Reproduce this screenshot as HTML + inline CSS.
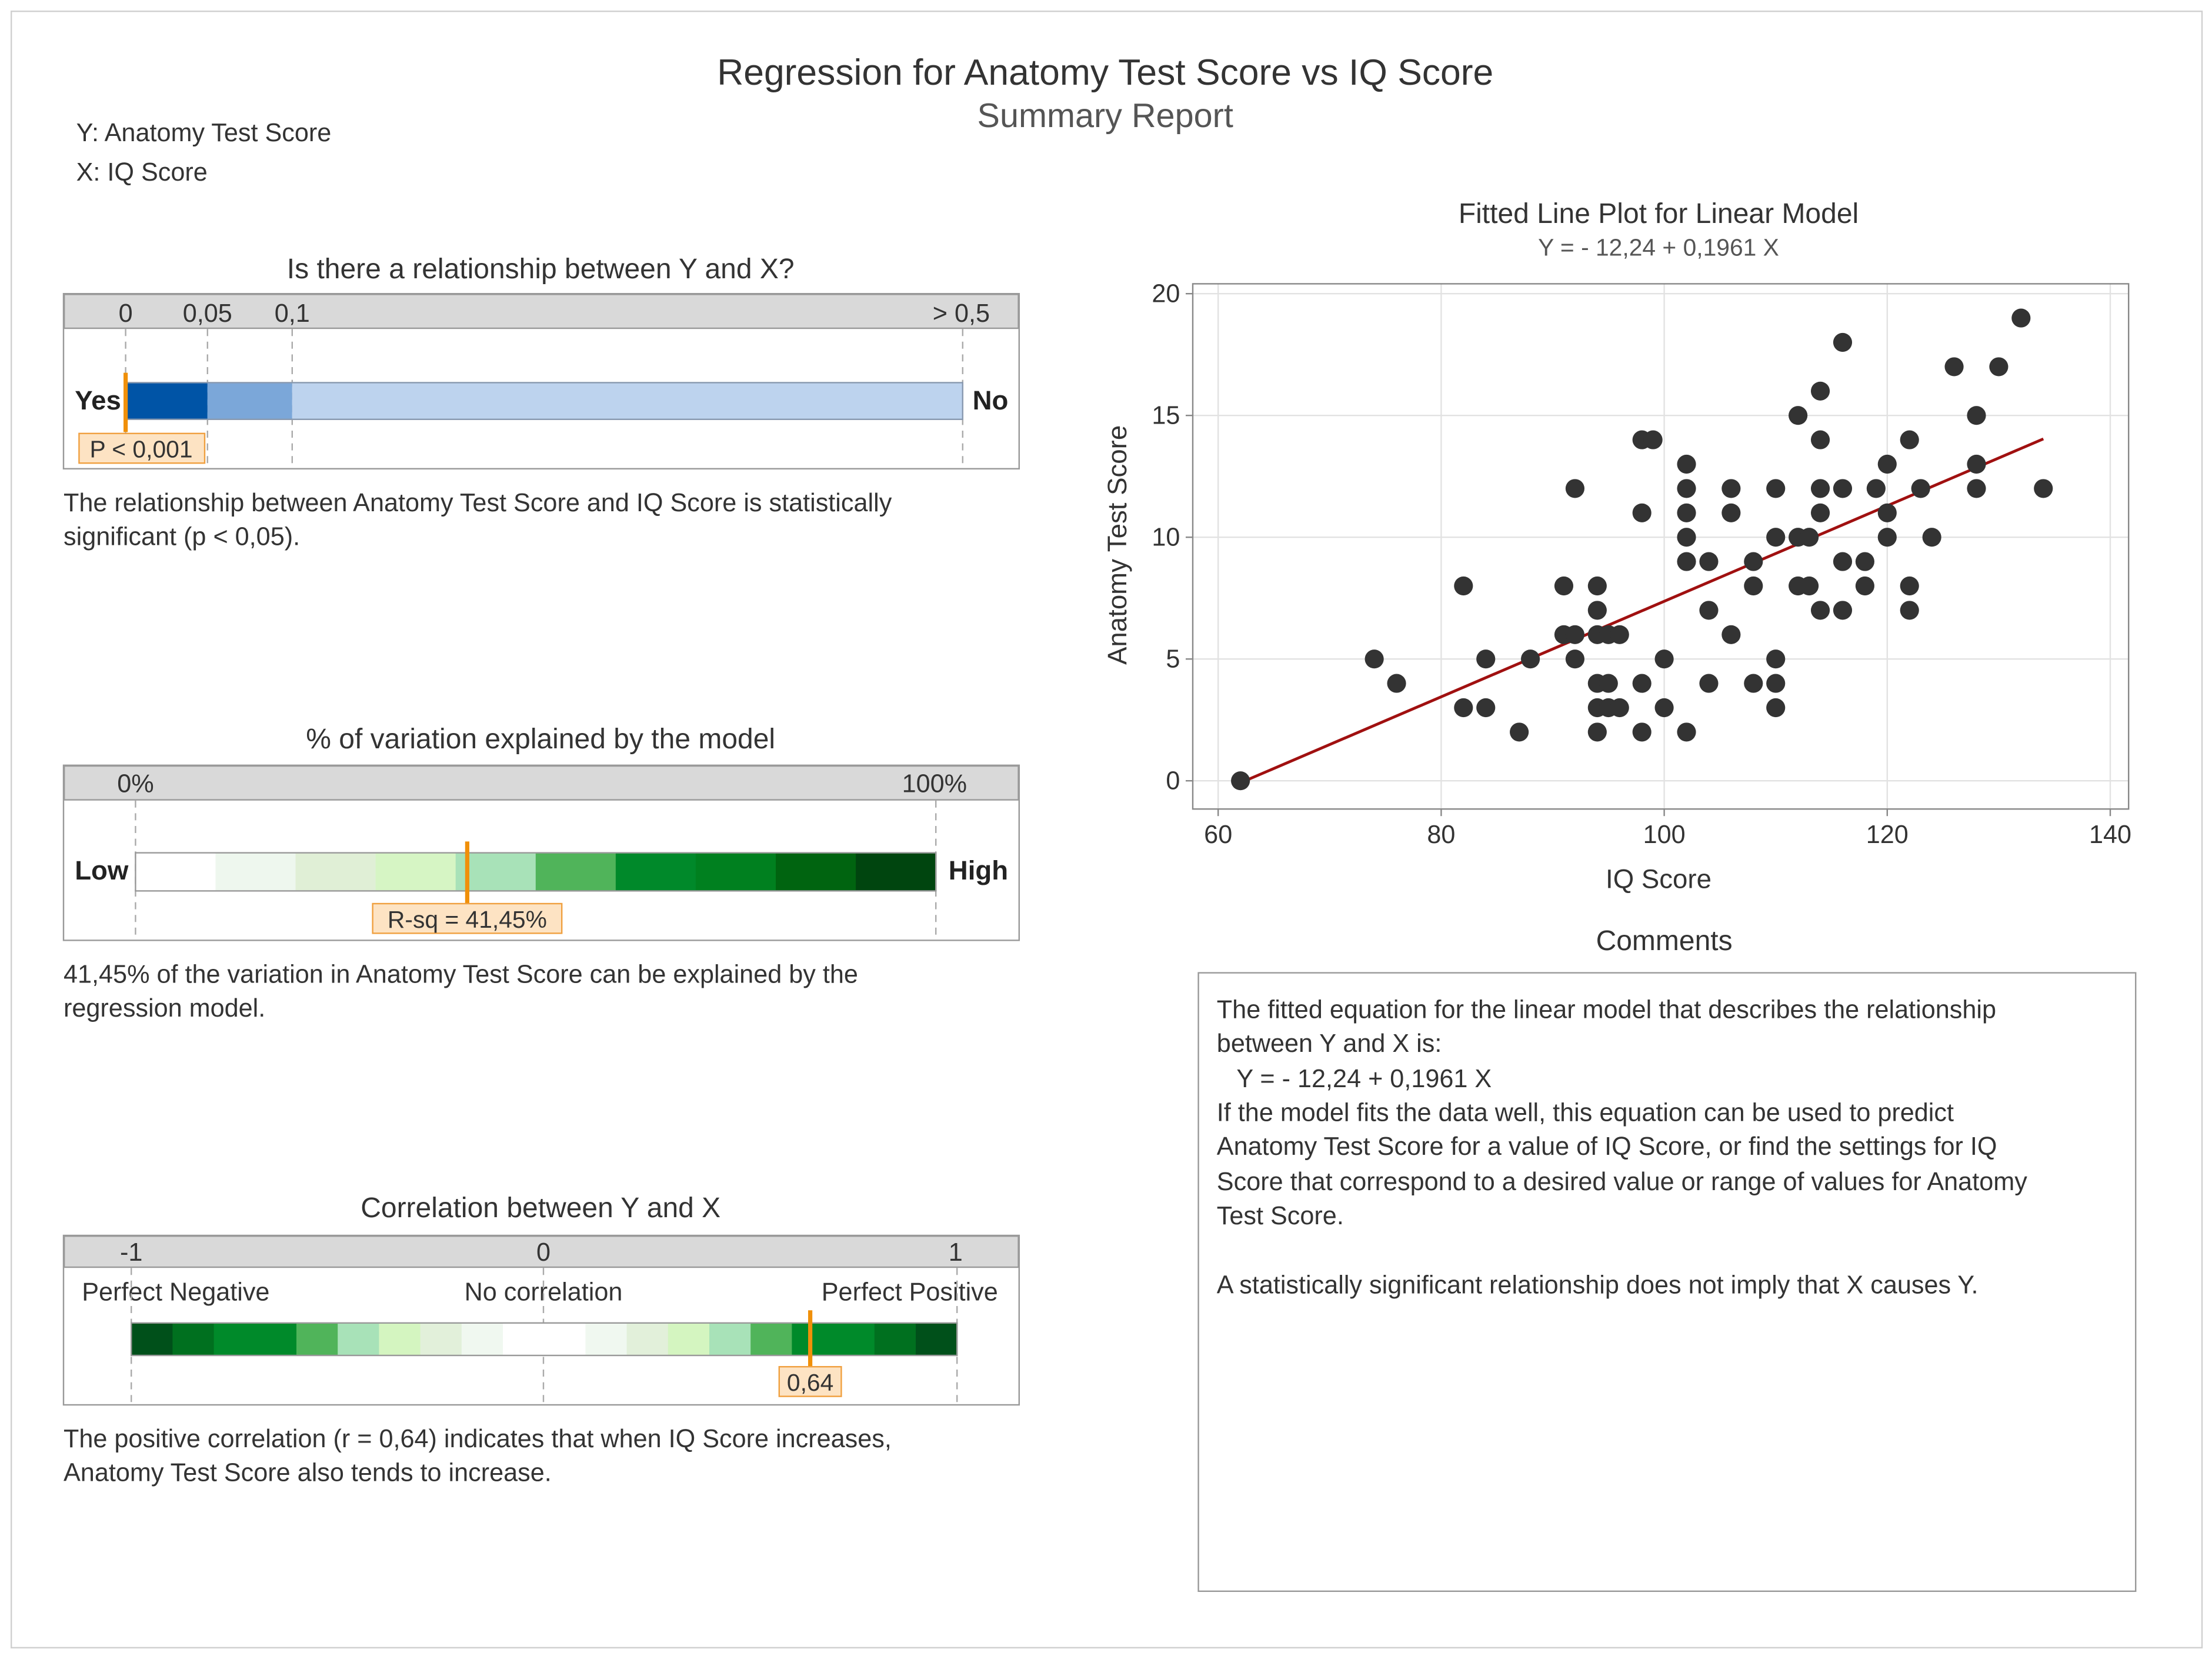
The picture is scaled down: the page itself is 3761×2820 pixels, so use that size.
<!DOCTYPE html>
<html><head><meta charset="utf-8"><style>
html,body{margin:0;padding:0;background:#fff}
svg{display:block}
text{font-family:"Liberation Sans",sans-serif}
</style></head><body>
<svg id="root" width="3761" height="2820" viewBox="0 0 1567.08 1175" preserveAspectRatio="none">
<rect x="8" y="8" width="1552" height="1159" fill="#fff" stroke="#d0d0d0"/>
<text x="783" y="60" text-anchor="middle" font-size="26" fill="#333">Regression for Anatomy Test Score vs IQ Score</text>
<text x="783" y="90" text-anchor="middle" font-size="24" fill="#555">Summary Report</text>
<text x="54" y="100" font-size="18" fill="#333">Y: Anatomy Test Score</text>
<text x="54" y="128" font-size="18" fill="#333">X: IQ Score</text>

<!-- Panel 1 -->
<g>
<text x="383" y="197" text-anchor="middle" font-size="20" fill="#333">Is there a relationship between Y and X?</text>
<rect x="45" y="208" width="677" height="124" fill="#fff" stroke="#999"/>
<rect x="45.5" y="208.5" width="676" height="24" fill="#d9d9d9" stroke="#999"/>
<g font-size="18" fill="#333" text-anchor="middle">
<text x="89" y="228">0</text>
<text x="147" y="228">0,05</text>
<text x="207" y="228">0,1</text>
<text x="681" y="228">&gt; 0,5</text>
</g>
<g stroke="#aaa" stroke-dasharray="5,4">
<line x1="89" y1="233" x2="89" y2="330"/><line x1="147" y1="233" x2="147" y2="330"/><line x1="207" y1="233" x2="207" y2="330"/><line x1="682" y1="233" x2="682" y2="330"/>
</g>
<rect x="89" y="271" width="58" height="26" fill="#0054a6"/>
<rect x="147" y="271" width="60" height="26" fill="#7ba7d9"/>
<rect x="207" y="271" width="475" height="26" fill="#bdd3ee"/>
<rect x="89" y="271" width="593" height="26" fill="none" stroke="#8a9ab0"/>
<text x="53" y="290" font-size="19" font-weight="bold" fill="#222">Yes</text>
<text x="689" y="290" font-size="19" font-weight="bold" fill="#222">No</text>
<line x1="89" y1="264" x2="89" y2="306" stroke="#f0900a" stroke-width="3"/>
<rect x="56" y="307" width="89" height="21" fill="#fde3c3" stroke="#f0a040"/>
<text x="100" y="324" text-anchor="middle" font-size="17" fill="#333">P &lt; 0,001</text>
<text x="45" y="362" font-size="18" fill="#333">The relationship between Anatomy Test Score and IQ Score is statistically</text>
<text x="45" y="386" font-size="18" fill="#333">significant (p &lt; 0,05).</text>
</g>

<!-- Panel 2 -->
<g>
<text x="383" y="530" text-anchor="middle" font-size="20" fill="#333">% of variation explained by the model</text>
<rect x="45" y="542" width="677" height="124" fill="#fff" stroke="#999"/>
<rect x="45.5" y="542.5" width="676" height="24" fill="#d9d9d9" stroke="#999"/>
<text x="96" y="561" text-anchor="middle" font-size="18" fill="#333">0%</text>
<text x="662" y="561" text-anchor="middle" font-size="18" fill="#333">100%</text>
<g stroke="#aaa" stroke-dasharray="5,4"><line x1="96" y1="567" x2="96" y2="664"/><line x1="663" y1="567" x2="663" y2="664"/></g>
<g id="rsqBar"></g>
<rect x="96" y="604" width="567" height="27" fill="none" stroke="#999"/>
<text x="53" y="623" font-size="19" font-weight="bold" fill="#222">Low</text>
<text x="672" y="623" font-size="19" font-weight="bold" fill="#222">High</text>
<line x1="331" y1="596" x2="331" y2="640" stroke="#f0900a" stroke-width="3"/>
<rect x="264" y="640" width="134" height="21" fill="#fde3c3" stroke="#f0a040"/>
<text x="331" y="657" text-anchor="middle" font-size="17" fill="#333">R-sq = 41,45%</text>
<text x="45" y="696" font-size="18" fill="#333">41,45% of the variation in Anatomy Test Score can be explained by the</text>
<text x="45" y="720" font-size="18" fill="#333">regression model.</text>
</g>

<!-- Panel 3 -->
<g>
<text x="383" y="862" text-anchor="middle" font-size="20" fill="#333">Correlation between Y and X</text>
<rect x="45" y="875" width="677" height="120" fill="#fff" stroke="#999"/>
<rect x="45.5" y="875.5" width="676" height="22" fill="#d9d9d9" stroke="#999"/>
<g font-size="18" fill="#333" text-anchor="middle">
<text x="93" y="893">-1</text>
<text x="385" y="893">0</text>
<text x="677" y="893">1</text>
</g>
<text x="58" y="921" font-size="18" fill="#333">Perfect Negative</text>
<text x="385" y="921" font-size="18" fill="#333" text-anchor="middle">No correlation</text>
<text x="707" y="921" font-size="18" fill="#333" text-anchor="end">Perfect Positive</text>
<g stroke="#aaa" stroke-dasharray="5,4"><line x1="93" y1="898" x2="93" y2="993"/><line x1="385" y1="898" x2="385" y2="993"/><line x1="678" y1="898" x2="678" y2="993"/></g>
<g id="corrBar"></g>
<rect x="93" y="937" width="585" height="23" fill="none" stroke="#999"/>
<line x1="574" y1="928" x2="574" y2="968" stroke="#f0900a" stroke-width="3"/>
<rect x="552" y="968" width="44" height="21" fill="#fde3c3" stroke="#f0a040"/>
<text x="574" y="985" text-anchor="middle" font-size="17" fill="#333">0,64</text>
<text x="45" y="1025" font-size="18" fill="#333">The positive correlation (r = 0,64) indicates that when IQ Score increases,</text>
<text x="45" y="1049" font-size="18" fill="#333">Anatomy Test Score also tends to increase.</text>
</g>

<!-- Scatter -->
<g>
<text x="1175" y="158" text-anchor="middle" font-size="20" fill="#333">Fitted Line Plot for Linear Model</text>
<text x="1175" y="181" text-anchor="middle" font-size="17" fill="#555">Y = - 12,24 + 0,1961 X</text>
<g id="grid"></g>
<rect x="845" y="201" width="663" height="372" fill="none" stroke="#888"/>
<g id="ticks"></g>
<g id="marks"></g>
<text x="1175" y="629" text-anchor="middle" font-size="19" fill="#333">IQ Score</text>
<text x="0" y="0" transform="translate(798,386) rotate(-90)" text-anchor="middle" font-size="19" fill="#333">Anatomy Test Score</text>
</g>

<!-- Comments -->
<g>
<text x="1179" y="673" text-anchor="middle" font-size="20" fill="#333">Comments</text>
<rect x="849" y="689" width="664" height="438" fill="#fff" stroke="#999"/>
<g font-size="18" fill="#333">
<text x="862" y="721">The fitted equation for the linear model that describes the relationship</text>
<text x="862" y="745">between Y and X is:</text>
<text x="876" y="770">Y = - 12,24 + 0,1961 X</text>
<text x="862" y="794">If the model fits the data well, this equation can be used to predict</text>
<text x="862" y="818">Anatomy Test Score for a value of IQ Score, or find the settings for IQ</text>
<text x="862" y="843">Score that correspond to a desired value or range of values for Anatomy</text>
<text x="862" y="867">Test Score.</text>
<text x="862" y="916">A statistically significant relationship does not imply that X causes Y.</text>
</g>
</g>
</svg>
<script>
const iq = [62,74,76,82,82,84,84,87,88,91,91,92,92,92,94,94,94,94,94,94,95,95,95,96,96,98,99,98,98,98,100,100,102,102,102,102,102,102,104,104,104,106,106,106,108,108,108,110,110,110,110,110,112,112,113,112,113,114,114,114,114,114,116,116,116,116,118,118,119,120,120,120,122,122,122,123,124,126,128,128,128,130,132,134];
const score = [0,5,4,8,3,5,3,2,5,8,6,12,6,5,8,7,6,4,3,2,6,4,3,6,3,14,14,11,4,2,5,3,13,12,11,10,9,2,9,7,4,12,11,6,9,8,4,12,10,5,4,3,15,10,10,8,8,16,14,12,11,7,18,12,9,7,9,8,12,13,11,10,14,8,7,12,10,17,15,13,12,17,19,12];
const xTicks = [60,80,100,120,140];
const yTicks = [0,5,10,15,20];
const intercept = -12.24, slope = 0.1961;
const fitRange = [62,134];
const rsqColors = ["#ffffff","#eef7ee","#e0efd6","#d6f5c4","#a8e2b8","#50b45a","#00892a","#00801f","#006410","#00450f"];
const corrColors = ["#00501a","#00701f","#008a2a","#008a2a","#50b45a","#a8e2b8","#d4f5c0","#e2f0da","#f0f8f0","#ffffff","#ffffff","#f0f8f0","#e2f0da","#d4f5c0","#a8e2b8","#50b45a","#008a2a","#008a2a","#00701f","#00501a"];
const NS="http://www.w3.org/2000/svg";
const sx = v => 863 + (v-60)*7.9;
const sy = v => 553 - v*17.25;
function mk(tag, attrs, parent){const e=document.createElementNS(NS,tag);for(const k in attrs)e.setAttribute(k,attrs[k]);parent.appendChild(e);return e;}
const grid=document.getElementById('grid'), ticks=document.getElementById('ticks'), marks=document.getElementById('marks');
xTicks.forEach(t=>{
  const l=mk('line',{x1:sx(t),x2:sx(t),y1:201,y2:573,stroke:'#e2e2e2'},grid);
  
  
  mk('line',{x1:sx(t),x2:sx(t),y1:573,y2:578,stroke:'#888'},ticks);
  const tx=mk('text',{x:sx(t),y:597,'text-anchor':'middle','font-size':18,fill:'#333'},ticks);
  tx.textContent=t;
  
  
});
yTicks.forEach(t=>{
  const l=mk('line',{x1:845,x2:1508,y1:sy(t),y2:sy(t),stroke:'#e2e2e2'},grid);
  
  
  mk('line',{x1:840,x2:845,y1:sy(t),y2:sy(t),stroke:'#888'},ticks);
  const tx=mk('text',{x:836,y:sy(t)+6,'text-anchor':'end','font-size':18,fill:'#333'},ticks);
  tx.textContent=t;
  
  
});
const fl=mk('line',{x1:sx(fitRange[0]),y1:sy(intercept+slope*fitRange[0]),x2:sx(fitRange[1]),y2:sy(intercept+slope*fitRange[1]),stroke:'#a01010','stroke-width':2},marks);


iq.forEach((v,i)=>{
  const c=mk('circle',{cx:sx(v),cy:sy(score[i]),r:6.7,fill:'#333'},marks);
  
  
});
const rb=document.getElementById('rsqBar');
const rw=567/rsqColors.length;
rsqColors.forEach((c,i)=>{
  const r=mk('rect',{x:96+i*rw,y:604,width:rw+0.5,height:27,fill:c},rb);
  
  
});
const cb=document.getElementById('corrBar');
const cw=585/corrColors.length;
corrColors.forEach((c,i)=>{
  const r=mk('rect',{x:93+i*cw,y:937,width:cw+0.5,height:23,fill:c},cb);
  
  
});
</script>
</body></html>
